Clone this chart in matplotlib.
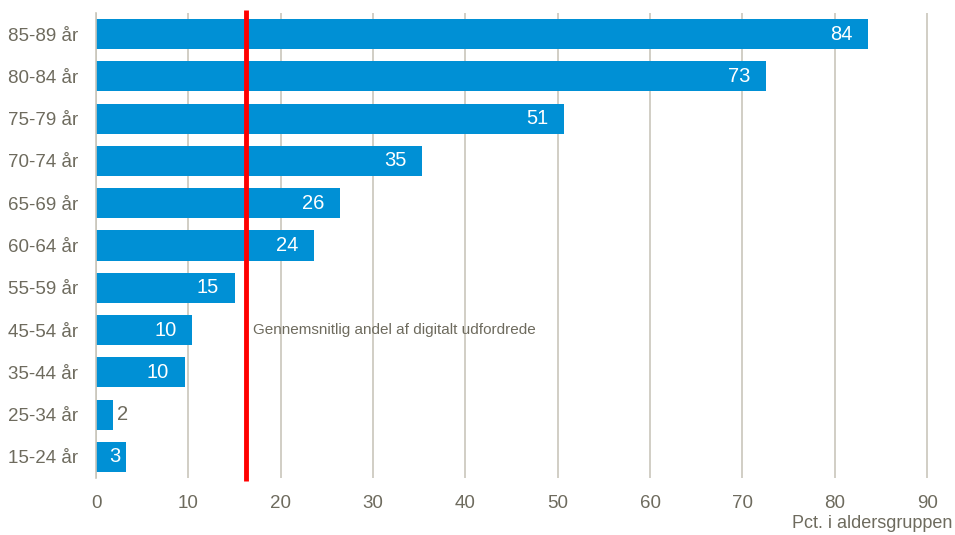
import matplotlib
matplotlib.use("Agg")
import matplotlib.pyplot as plt

# Share of digitally challenged by age group (pct.)
age_groups = ["85-89 år", "80-84 år", "75-79 år", "70-74 år", "65-69 år", "60-64 år",
              "55-59 år", "45-54 år", "35-44 år", "25-34 år", "15-24 år"]
shares = [83.6, 72.6, 50.7, 35.3, 26.4, 23.6, 15.0, 10.4, 9.6, 1.8, 3.3]
average = 16.2
avg_label = "Gennemsnitlig andel af digitalt udfordrede"
x_ticks = [0, 10, 20, 30, 40, 50, 60, 70, 80, 90]

plt.rcParams["font.family"] = ["Liberation Sans", "DejaVu Sans"]
text_col = "#6e6b5e"
grid_col = "#c9c6bb"
bar_col = "#0090d5"

fig = plt.figure(figsize=(9.55, 5.35), dpi=100)
ax = fig.add_axes([96 / 955, 1 - 478 / 535, (929 - 96) / 955, (478 - 13) / 535])

ypos = list(range(len(age_groups)))
ax.barh(ypos, shares, height=0.71, color=bar_col, zorder=2)

# value labels: inside the bar end, outside when the bar is too short
for y, v in zip(ypos, shares):
    if v < 2.5:
        ax.text(v + 0.5, y, f"{v:.0f}", va="center", ha="left", color=text_col, fontsize=14.5)
    elif v < 5:
        ax.text(v - 0.6, y, f"{v:.0f}", va="center", ha="right", color="white", fontsize=14.5)
    else:
        ax.text(v - 1.7, y, f"{v:.0f}", va="center", ha="right", color="white", fontsize=14.5)

ax.set_ylim(len(age_groups) - 0.5, -0.5)
ax.set_xlim(0, 90.2)
ax.set_yticks(ypos)
ax.set_yticklabels(age_groups)
ax.set_xticks(x_ticks)

ax.grid(axis="x", color=grid_col, linewidth=1.2, zorder=0)
for s in ["top", "right", "bottom"]:
    ax.spines[s].set_visible(False)
ax.spines["left"].set_color(grid_col)
ax.spines["left"].set_linewidth(1.2)
ax.tick_params(axis="both", length=0, colors=text_col, labelsize=13.5)
ax.tick_params(axis="y", pad=13)
ax.tick_params(axis="x", pad=12)

# average marker
ax.plot([average, average], [10.57, -0.57], color="#ff0000", linewidth=3.5, zorder=3,
        clip_on=False, solid_capstyle="butt")
ax.text(average + 0.85, 7.0, avg_label, va="center", ha="left", color=text_col, fontsize=11)

fig.text(952 / 955, 1 - 524 / 535, "Pct. i aldersgruppen", ha="right", va="center",
         color=text_col, fontsize=13)

fig.savefig("out.png", dpi=100)
